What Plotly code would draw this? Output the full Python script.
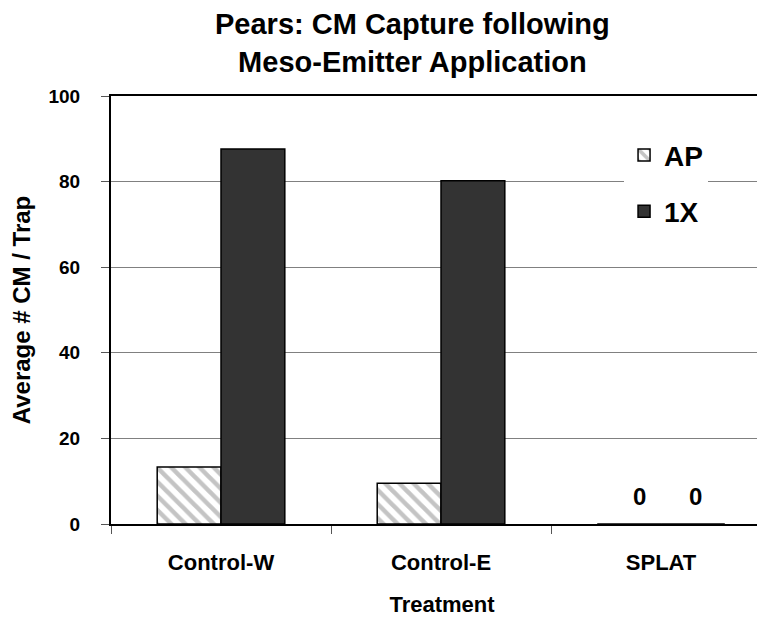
import plotly.graph_objects as go

categories = ["Control-W", "Control-E", "SPLAT"]
ap_values = [13.3, 9.5, 0]
x1_values = [87.6, 80.2, 0]
zero_labels = ["0", "0"]
zero_shifts = [-22, 34]
y_ticks = [0, 20, 40, 60, 80, 100]
title_text = "Pears: CM Capture following<br>Meso-Emitter Application"

FONT = "Liberation Sans, Arial, sans-serif"

fig = go.Figure()
fig.add_trace(go.Bar(
    name="AP", x=categories, y=ap_values,
    marker=dict(color="white", line=dict(color="black", width=1.5),
                pattern=dict(shape="\\", fgcolor="#8a8a8a", bgcolor="white",
                             size=10, solidity=0.45)),
    legendgroup="a",
))
fig.add_trace(go.Bar(
    name="1X", x=categories, y=x1_values,
    marker=dict(color="#333333", line=dict(color="black", width=1.5)),
    legendgroup="b",
))

# zero value labels for the SPLAT bars
for lab, sh, val in zip(zero_labels, zero_shifts, [ap_values[2], x1_values[2]]):
    fig.add_annotation(x=categories[2], y=val, text=lab, showarrow=False,
                       xshift=sh, yshift=12, yanchor="bottom",
                       font=dict(size=24, family=FONT, color="black", weight="bold"))

# chart title
fig.add_annotation(text=title_text, xref="paper", yref="paper",
                   x=0.456, y=1.124, xanchor="center", yanchor="middle",
                   showarrow=False,
                   font=dict(size=29, family=FONT, color="black", weight="bold"))

fig.update_layout(
    width=765, height=619,
    margin=dict(l=103, r=0, t=88, b=103, pad=0, autoexpand=False),
    plot_bgcolor="white", paper_bgcolor="white",
    font=dict(family=FONT, color="black", size=18, weight="bold"),
    barmode="group", bargap=0.42, bargroupgap=0,
    legend=dict(x=0.775, y=0.92, xanchor="left", yanchor="top",
                bgcolor="white", borderwidth=0,
                entrywidth=80, entrywidthmode="pixels",
                font=dict(size=28, family=FONT, color="black", weight="bold"),
                tracegroupgap=17, traceorder="grouped"),
    xaxis=dict(type="category", range=[-0.5, 2.509], automargin=False,
               showline=True, linecolor="black", linewidth=2, mirror=True,
               ticks="outside", tickson="boundaries", ticklen=8, tickcolor="#555555",
               tickwidth=1, ticklabelstandoff=18, showgrid=False,
               tickfont=dict(size=22, family=FONT, color="black", weight="bold"),
               title=dict(text="Treatment", standoff=22,
                          font=dict(size=22, family=FONT, color="black", weight="bold"))),
    yaxis=dict(range=[0, 100], tickvals=y_ticks, automargin=False,
               showline=True, linecolor="black", linewidth=2,
               ticks="outside", ticklen=8, tickcolor="#555555", tickwidth=1,
               ticklabelstandoff=17,
               showgrid=True, gridcolor="#808080", gridwidth=1, zeroline=False,
               tickfont=dict(size=19, family=FONT, color="black", weight="bold"),
               title=dict(text="Average # CM / Trap", standoff=16,
                          font=dict(size=24, family=FONT, color="black", weight="bold"))),
)

fig.write_html("out.html")
